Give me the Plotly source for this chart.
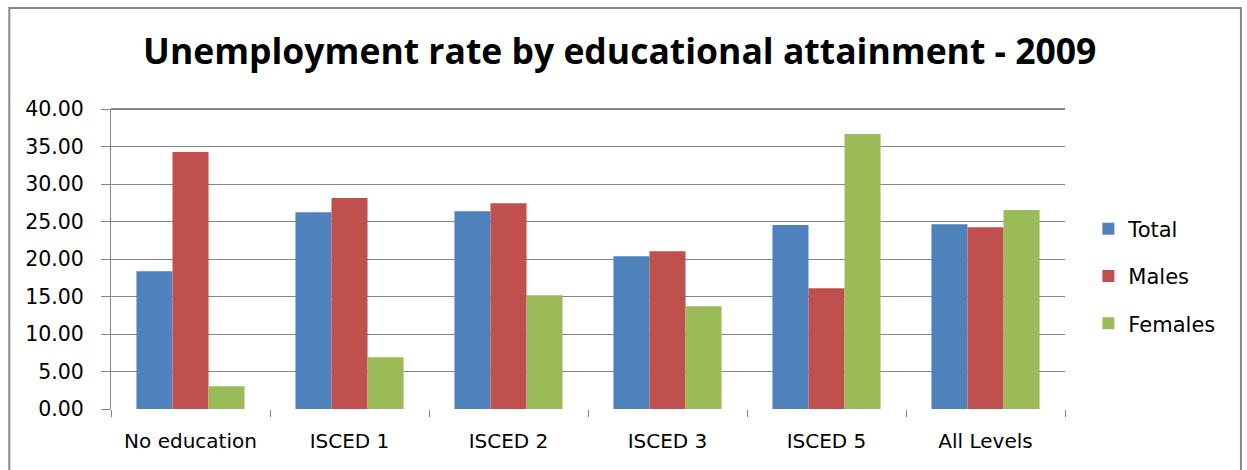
import plotly.graph_objects as go

categories = ["No education", "ISCED 1", "ISCED 2", "ISCED 3", "ISCED 5", "All Levels"]
total = [18.38, 26.25, 26.38, 20.38, 24.52, 24.65]
males = [34.26, 28.12, 27.45, 21.05, 16.11, 24.25]
females = [3.03, 6.90, 15.17, 13.70, 36.66, 26.52]
y_ticks = [0, 5, 10, 15, 20, 25, 30, 35, 40]

series = [("Total", total, "#4F81BD"), ("Males", males, "#C0504D"), ("Females", females, "#9BBB59")]

fig = go.Figure()
for name, vals, col in series:
    fig.add_trace(go.Bar(x=categories, y=vals, name=name, marker_color=col,
                         marker_line_width=0, legendgroup=name))

fig.update_layout(
    width=1247, height=470,
    margin=dict(l=111, r=182, t=109, b=61),
    paper_bgcolor="white", plot_bgcolor="white",
    barmode="group", bargap=0.32, bargroupgap=0,
    font=dict(family="DejaVu Sans", size=20, color="black"),
    title=dict(text="<b>Unemployment rate by educational attainment - 2009</b>",
               x=0.497, xref="container", xanchor="center", y=0.89, yanchor="middle",
               font=dict(family="Open Sans", size=35.5, color="black")),
    legend=dict(x=1.0245, xanchor="left", y=0.443, yanchor="middle",
                traceorder="grouped", tracegroupgap=17,
                font=dict(family="DejaVu Sans", size=21, color="black"),
                itemwidth=30),
    showlegend=True,
)
fig.update_yaxes(range=[0, 40], tickvals=y_ticks, tickformat=".2f",
                 showgrid=True, gridcolor="#868686", gridwidth=1,
                 showline=True, linecolor="#868686", linewidth=1,
                 ticks="outside", ticklen=9, tickcolor="#868686",
                 ticklabelstandoff=13,
                 zeroline=False, mirror=False,
                 tickfont=dict(family="DejaVu Sans", size=20.5, color="black"))
fig.update_xaxes(showline=False, ticks="outside", ticklen=7, tickcolor="#868686",
                 tickson="boundaries", ticklabelstandoff=18,
                 tickfont=dict(family="DejaVu Sans", size=20, color="black"))

fig.add_shape(type="line", xref="paper", yref="paper", x0=0, x1=1, y0=1, y1=1,
              line=dict(color="#868686", width=2), layer="above")
fig.add_shape(type="rect", xref="paper", yref="paper",
              x0=-0.1066, x1=1.1844, y0=-0.25, y1=1.3367,
              line=dict(color="#868686", width=2), fillcolor="rgba(0,0,0,0)")

fig.write_html("out.html")
